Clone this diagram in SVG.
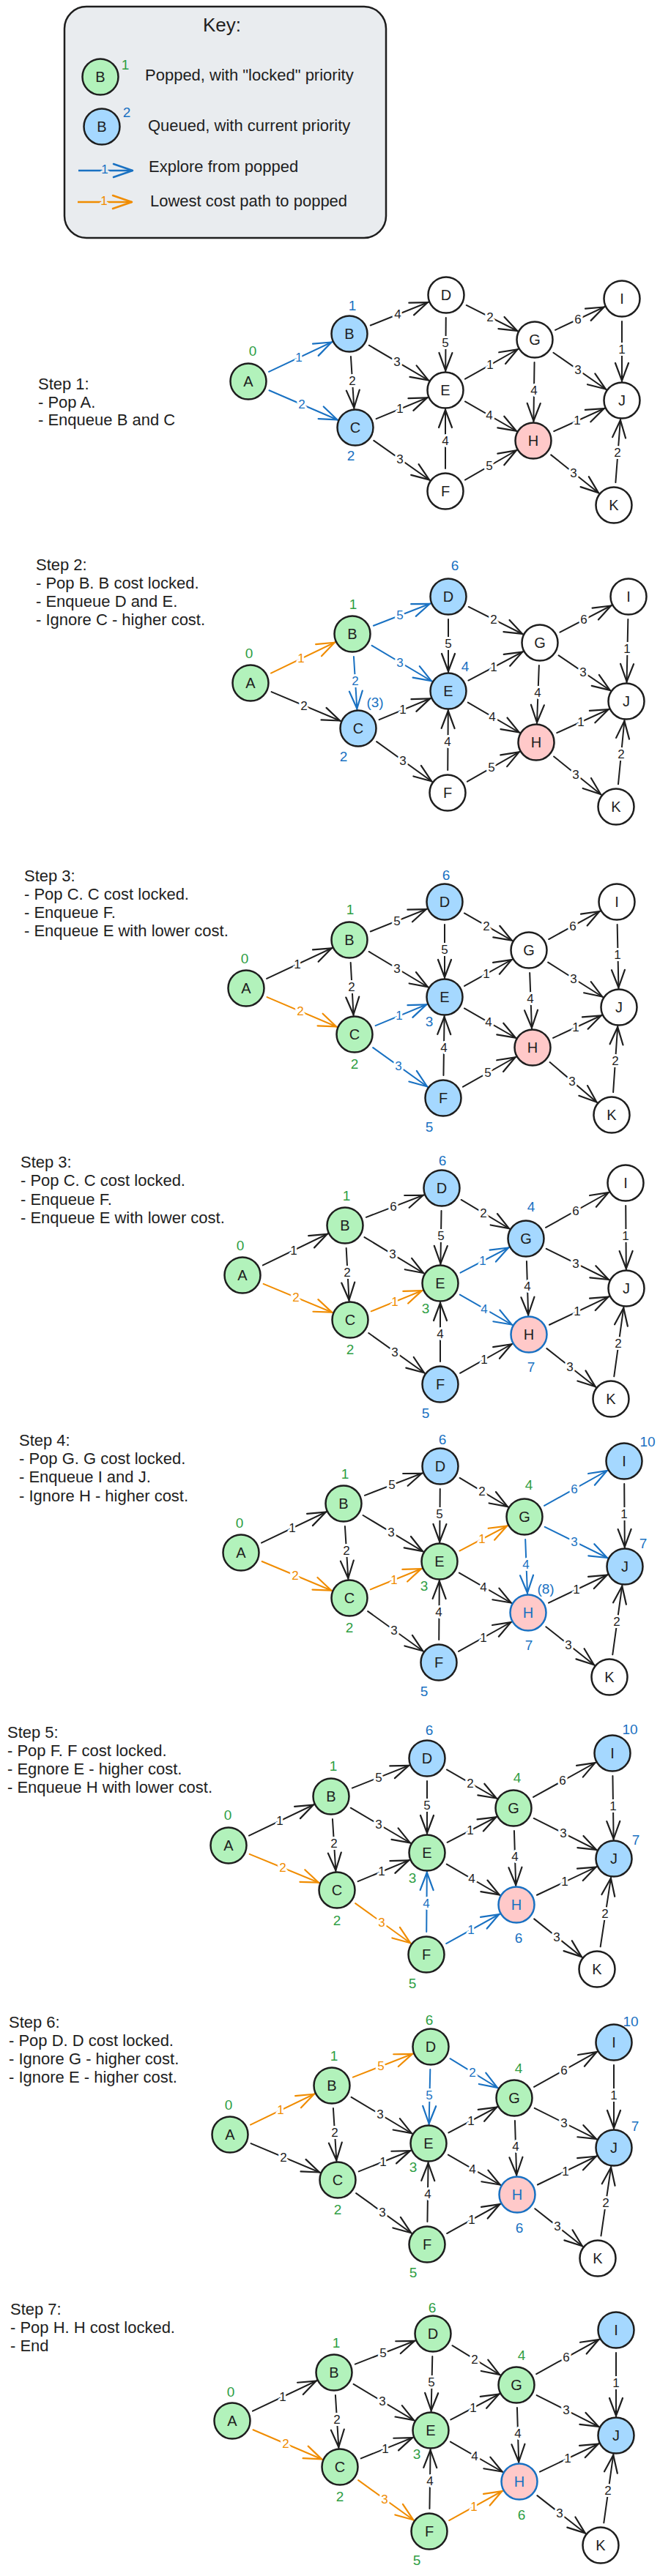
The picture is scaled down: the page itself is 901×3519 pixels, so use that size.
<svg xmlns="http://www.w3.org/2000/svg" width="901" height="3519" viewBox="0 0 901 3519">
<defs>
<style>
text{font-family:"Liberation Sans",Arial,sans-serif}
.e,.eb,.eo{stroke-width:2;fill:none;stroke-dasharray:0 31 4000;stroke-linecap:round}
.e{stroke:#1e1e1e;marker-end:url(#hk)}
.eb{stroke:#1971c2;marker-end:url(#hb)}
.eo{stroke:#f08c00;marker-end:url(#ho)}
.l{font-size:17px;fill:#1e1e1e;text-anchor:middle;dominant-baseline:central;stroke:#fff;stroke-width:6;paint-order:stroke;stroke-linejoin:round}
.l.b{fill:#1971c2}
.l.o{fill:#f08c00}
.n{stroke:#1e1e1e;stroke-width:2.5}
.w{fill:#fff}.g{fill:#b2f2bb}.b{fill:#a5d8ff}.p{fill:#ffc9c9}
.n.hb{stroke:#1971c2}
.t{font-size:20px;fill:#1e1e1e;text-anchor:middle;dominant-baseline:central}
.t.hb{fill:#1971c2}
.ng,.nb{font-size:19px;text-anchor:middle;dominant-baseline:central}
.ng{fill:#2f9e44}.nb{fill:#1971c2}
.st{font-size:22px;fill:#1e1e1e}
</style>
<marker id="hk" markerUnits="userSpaceOnUse" orient="auto" refX="27" refY="0" markerWidth="1" markerHeight="1" overflow="visible"><path d="M-24,-9 L0,0 L-24,9" fill="none" stroke="#1e1e1e" stroke-width="2.2" stroke-linecap="round" stroke-linejoin="round"/></marker>
<marker id="hb" markerUnits="userSpaceOnUse" orient="auto" refX="27" refY="0" markerWidth="1" markerHeight="1" overflow="visible"><path d="M-24,-9 L0,0 L-24,9" fill="none" stroke="#1971c2" stroke-width="2.2" stroke-linecap="round" stroke-linejoin="round"/></marker>
<marker id="ho" markerUnits="userSpaceOnUse" orient="auto" refX="27" refY="0" markerWidth="1" markerHeight="1" overflow="visible"><path d="M-24,-9 L0,0 L-24,9" fill="none" stroke="#f08c00" stroke-width="2.2" stroke-linecap="round" stroke-linejoin="round"/></marker>
<marker id="hbk" markerUnits="userSpaceOnUse" orient="auto" refX="0" refY="0" markerWidth="1" markerHeight="1" overflow="visible"><path d="M-26,-9 L0,0 L-26,9" fill="none" stroke="#1971c2" stroke-width="2.5" stroke-linecap="round" stroke-linejoin="round"/></marker>
<marker id="hok" markerUnits="userSpaceOnUse" orient="auto" refX="0" refY="0" markerWidth="1" markerHeight="1" overflow="visible"><path d="M-26,-9 L0,0 L-26,9" fill="none" stroke="#f08c00" stroke-width="2.5" stroke-linecap="round" stroke-linejoin="round"/></marker>
</defs>
<rect width="901" height="3519" fill="#fff"/>

<g id="key">
<rect x="88" y="9" width="439" height="316" rx="30" fill="#e9ecef" stroke="#1e1e1e" stroke-width="2.5"/>
<text x="303" y="43" font-size="26" fill="#1e1e1e" text-anchor="middle">Key:</text>
<g id="key-popped"><circle cx="137" cy="105" r="24.5" class="n g"/><text x="137" y="105" class="t">B</text><text x="171" y="88" class="ng">1</text>
<text x="198" y="110" class="st">Popped, with "locked" priority</text></g>
<g id="key-queued"><circle cx="139" cy="173" r="24.5" class="n b"/><text x="139" y="173" class="t">B</text><text x="173" y="153" class="nb">2</text>
<text x="202" y="179" class="st">Queued, with current priority</text></g>
<g id="key-explore"><line x1="107" y1="233" x2="181" y2="233" stroke="#1971c2" stroke-width="2.5" marker-end="url(#hbk)"/><text x="143" y="231" class="l b" style="stroke:#e9ecef">1</text>
<text x="203" y="235" class="st">Explore from popped</text></g>
<g id="key-lowest"><line x1="106" y1="276" x2="180" y2="276" stroke="#f08c00" stroke-width="2.5" marker-end="url(#hok)"/><text x="142" y="274" class="l o" style="stroke:#e9ecef">1</text>
<text x="205" y="282" class="st">Lowest cost path to popped</text></g>
</g>

<!-- STEP 1 -->
<g id="step1">
<g id="s1-text"><text x="52" y="532" class="st">Step 1:</text><text x="52" y="557" class="st">- Pop A.</text><text x="52" y="581" class="st">- Enqueue B and C</text></g>
<g id="s1-connectors">
<line x1="339" y1="521" x2="477" y2="456" class="eb"/>
<line x1="339" y1="521" x2="485" y2="584" class="eb"/>
<line x1="477" y1="456" x2="609" y2="403" class="e"/>
<line x1="477" y1="456" x2="608" y2="533" class="e"/>
<line x1="477" y1="456" x2="485" y2="584" class="e"/>
<line x1="485" y1="584" x2="608" y2="533" class="e"/>
<line x1="485" y1="584" x2="608" y2="671" class="e"/>
<line x1="609" y1="403" x2="608" y2="533" class="e"/>
<line x1="609" y1="403" x2="730" y2="464" class="e"/>
<line x1="608" y1="533" x2="730" y2="464" class="e"/>
<line x1="608" y1="533" x2="728" y2="602" class="e"/>
<line x1="608" y1="671" x2="608" y2="533" class="e"/>
<line x1="608" y1="671" x2="728" y2="602" class="e"/>
<line x1="730" y1="464" x2="849" y2="408" class="e"/>
<line x1="730" y1="464" x2="849" y2="547" class="e"/>
<line x1="730" y1="464" x2="728" y2="602" class="e"/>
<line x1="728" y1="602" x2="849" y2="547" class="e"/>
<line x1="728" y1="602" x2="838" y2="690" class="e"/>
<line x1="849" y1="408" x2="849" y2="547" class="e"/>
<line x1="838" y1="690" x2="849" y2="547" class="e"/>
<text x="408" y="488" class="l b">1</text><text x="412" y="552" class="l b">2</text><text x="543" y="429" class="l">4</text><text x="542" y="494" class="l">3</text><text x="481" y="520" class="l">2</text><text x="546" y="558" class="l">1</text><text x="546" y="627" class="l">3</text><text x="608" y="468" class="l">5</text><text x="669" y="433" class="l">2</text><text x="669" y="498" class="l">1</text><text x="668" y="567" class="l">4</text><text x="608" y="602" class="l">4</text><text x="668" y="636" class="l">5</text><text x="789" y="436" class="l">6</text><text x="789" y="505" class="l">3</text><text x="729" y="533" class="l">4</text><text x="788" y="574" class="l">1</text><text x="783" y="646" class="l">3</text><text x="849" y="477" class="l">1</text><text x="843" y="618" class="l">2</text>
</g>
<g id="s1-A"><circle cx="339" cy="521" r="24.5" class="n g"/><text x="339" y="521" class="t">A</text><text x="345" y="479" class="ng">0</text></g>
<g id="s1-B"><circle cx="477" cy="456" r="24.5" class="n b"/><text x="477" y="456" class="t">B</text><text x="481" y="417" class="nb">1</text></g>
<g id="s1-C"><circle cx="485" cy="584" r="24.5" class="n b"/><text x="485" y="584" class="t">C</text><text x="479" y="622" class="nb">2</text></g>
<g id="s1-D"><circle cx="609" cy="403" r="24.5" class="n w"/><text x="609" y="403" class="t">D</text></g>
<g id="s1-E"><circle cx="608" cy="533" r="24.5" class="n w"/><text x="608" y="533" class="t">E</text></g>
<g id="s1-F"><circle cx="608" cy="671" r="24.5" class="n w"/><text x="608" y="671" class="t">F</text></g>
<g id="s1-G"><circle cx="730" cy="464" r="24.5" class="n w"/><text x="730" y="464" class="t">G</text></g>
<g id="s1-H"><circle cx="728" cy="602" r="24.5" class="n p"/><text x="728" y="602" class="t">H</text></g>
<g id="s1-I"><circle cx="849" cy="408" r="24.5" class="n w"/><text x="849" y="408" class="t">I</text></g>
<g id="s1-J"><circle cx="849" cy="547" r="24.5" class="n w"/><text x="849" y="547" class="t">J</text></g>
<g id="s1-K"><circle cx="838" cy="690" r="24.5" class="n w"/><text x="838" y="690" class="t">K</text></g>
</g>

<!-- STEP 2 -->
<g id="step2">
<g id="s2-text"><text x="49" y="779" class="st">Step 2:</text><text x="49" y="804" class="st">- Pop B. B cost locked.</text><text x="49" y="829" class="st">- Enqueue D and E.</text><text x="49" y="854" class="st">- Ignore C - higher cost.</text></g>
<g id="s2-connectors">
<line x1="342" y1="933" x2="481" y2="866" class="eo"/>
<line x1="342" y1="933" x2="489" y2="995" class="e"/>
<line x1="481" y1="866" x2="612" y2="815" class="eb"/>
<line x1="481" y1="866" x2="612" y2="944" class="eb"/>
<line x1="481" y1="866" x2="489" y2="995" class="eb"/>
<line x1="489" y1="995" x2="612" y2="944" class="e"/>
<line x1="489" y1="995" x2="611" y2="1083" class="e"/>
<line x1="612" y1="815" x2="612" y2="944" class="e"/>
<line x1="612" y1="815" x2="737" y2="878" class="e"/>
<line x1="612" y1="944" x2="737" y2="878" class="e"/>
<line x1="612" y1="944" x2="732" y2="1014" class="e"/>
<line x1="611" y1="1083" x2="612" y2="944" class="e"/>
<line x1="611" y1="1083" x2="732" y2="1014" class="e"/>
<line x1="737" y1="878" x2="858" y2="815" class="e"/>
<line x1="737" y1="878" x2="855" y2="958" class="e"/>
<line x1="737" y1="878" x2="732" y2="1014" class="e"/>
<line x1="732" y1="1014" x2="855" y2="958" class="e"/>
<line x1="732" y1="1014" x2="841" y2="1102" class="e"/>
<line x1="858" y1="815" x2="855" y2="958" class="e"/>
<line x1="841" y1="1102" x2="855" y2="958" class="e"/>
<text x="411" y="899" class="l o">1</text><text x="415" y="964" class="l">2</text><text x="546" y="840" class="l b">5</text><text x="546" y="905" class="l b">3</text><text x="485" y="930" class="l b">2</text><text x="550" y="969" class="l">1</text><text x="550" y="1039" class="l">3</text><text x="612" y="879" class="l">5</text><text x="674" y="846" class="l">2</text><text x="674" y="911" class="l">1</text><text x="672" y="979" class="l">4</text><text x="611" y="1013" class="l">4</text><text x="671" y="1048" class="l">5</text><text x="797" y="846" class="l">6</text><text x="796" y="918" class="l">3</text><text x="734" y="946" class="l">4</text><text x="793" y="986" class="l">1</text><text x="786" y="1058" class="l">3</text><text x="856" y="886" class="l">1</text><text x="848" y="1030" class="l">2</text>
</g>
<g id="s2-A"><circle cx="342" cy="933" r="24.5" class="n g"/><text x="342" y="933" class="t">A</text><text x="340" y="892" class="ng">0</text></g>
<g id="s2-B"><circle cx="481" cy="866" r="24.5" class="n g"/><text x="481" y="866" class="t">B</text><text x="482" y="825" class="ng">1</text></g>
<g id="s2-C"><circle cx="489" cy="995" r="24.5" class="n b"/><text x="489" y="995" class="t">C</text><text x="469" y="1033" class="nb">2</text><text x="512" y="959" class="nb">(3)</text></g>
<g id="s2-D"><circle cx="612" cy="815" r="24.5" class="n b"/><text x="612" y="815" class="t">D</text><text x="621" y="772" class="nb">6</text></g>
<g id="s2-E"><circle cx="612" cy="944" r="24.5" class="n b"/><text x="612" y="944" class="t">E</text><text x="635" y="910" class="nb">4</text></g>
<g id="s2-F"><circle cx="611" cy="1083" r="24.5" class="n w"/><text x="611" y="1083" class="t">F</text></g>
<g id="s2-G"><circle cx="737" cy="878" r="24.5" class="n w"/><text x="737" y="878" class="t">G</text></g>
<g id="s2-H"><circle cx="732" cy="1014" r="24.5" class="n p"/><text x="732" y="1014" class="t">H</text></g>
<g id="s2-I"><circle cx="858" cy="815" r="24.5" class="n w"/><text x="858" y="815" class="t">I</text></g>
<g id="s2-J"><circle cx="855" cy="958" r="24.5" class="n w"/><text x="855" y="958" class="t">J</text></g>
<g id="s2-K"><circle cx="841" cy="1102" r="24.5" class="n w"/><text x="841" y="1102" class="t">K</text></g>
</g>

<!-- STEP 3 -->
<g id="step3">
<g id="s3-text"><text x="33" y="1204" class="st">Step 3:</text><text x="33" y="1229" class="st">- Pop C. C cost locked.</text><text x="33" y="1254" class="st">- Enqueue F.</text><text x="33" y="1279" class="st">- Enqueue E with lower cost.</text></g>
<g id="s3-connectors">
<line x1="336" y1="1350" x2="477" y2="1284" class="e"/>
<line x1="336" y1="1350" x2="484" y2="1413" class="eo"/>
<line x1="477" y1="1284" x2="607" y2="1232" class="e"/>
<line x1="477" y1="1284" x2="607" y2="1362" class="e"/>
<line x1="477" y1="1284" x2="484" y2="1413" class="e"/>
<line x1="484" y1="1413" x2="607" y2="1362" class="eb"/>
<line x1="484" y1="1413" x2="605" y2="1500" class="eb"/>
<line x1="607" y1="1232" x2="607" y2="1362" class="e"/>
<line x1="607" y1="1232" x2="722" y2="1298" class="e"/>
<line x1="607" y1="1362" x2="722" y2="1298" class="e"/>
<line x1="607" y1="1362" x2="727" y2="1431" class="e"/>
<line x1="605" y1="1500" x2="607" y2="1362" class="e"/>
<line x1="605" y1="1500" x2="727" y2="1431" class="e"/>
<line x1="722" y1="1298" x2="842" y2="1232" class="e"/>
<line x1="722" y1="1298" x2="845" y2="1376" class="e"/>
<line x1="722" y1="1298" x2="727" y2="1431" class="e"/>
<line x1="727" y1="1431" x2="845" y2="1376" class="e"/>
<line x1="727" y1="1431" x2="835" y2="1523" class="e"/>
<line x1="842" y1="1232" x2="845" y2="1376" class="e"/>
<line x1="835" y1="1523" x2="845" y2="1376" class="e"/>
<text x="406" y="1317" class="l">1</text><text x="410" y="1381" class="l o">2</text><text x="542" y="1258" class="l">5</text><text x="542" y="1323" class="l">3</text><text x="480" y="1348" class="l">2</text><text x="545" y="1387" class="l b">1</text><text x="544" y="1456" class="l b">3</text><text x="607" y="1297" class="l">5</text><text x="664" y="1265" class="l">2</text><text x="664" y="1330" class="l">1</text><text x="667" y="1396" class="l">4</text><text x="606" y="1431" class="l">4</text><text x="666" y="1465" class="l">5</text><text x="782" y="1265" class="l">6</text><text x="783" y="1337" class="l">3</text><text x="724" y="1364" class="l">4</text><text x="786" y="1403" class="l">1</text><text x="781" y="1477" class="l">3</text><text x="843" y="1304" class="l">1</text><text x="840" y="1449" class="l">2</text>
</g>
<g id="s3-A"><circle cx="336" cy="1350" r="24.5" class="n g"/><text x="336" y="1350" class="t">A</text><text x="334" y="1309" class="ng">0</text></g>
<g id="s3-B"><circle cx="477" cy="1284" r="24.5" class="n g"/><text x="477" y="1284" class="t">B</text><text x="478" y="1242" class="ng">1</text></g>
<g id="s3-C"><circle cx="484" cy="1413" r="24.5" class="n g"/><text x="484" y="1413" class="t">C</text><text x="484" y="1453" class="ng">2</text></g>
<g id="s3-D"><circle cx="607" cy="1232" r="24.5" class="n b"/><text x="607" y="1232" class="t">D</text><text x="609" y="1195" class="nb">6</text></g>
<g id="s3-E"><circle cx="607" cy="1362" r="24.5" class="n b"/><text x="607" y="1362" class="t">E</text><text x="586" y="1395" class="nb">3</text></g>
<g id="s3-F"><circle cx="605" cy="1500" r="24.5" class="n b"/><text x="605" y="1500" class="t">F</text><text x="586" y="1539" class="nb">5</text></g>
<g id="s3-G"><circle cx="722" cy="1298" r="24.5" class="n w"/><text x="722" y="1298" class="t">G</text></g>
<g id="s3-H"><circle cx="727" cy="1431" r="24.5" class="n p"/><text x="727" y="1431" class="t">H</text></g>
<g id="s3-I"><circle cx="842" cy="1232" r="24.5" class="n w"/><text x="842" y="1232" class="t">I</text></g>
<g id="s3-J"><circle cx="845" cy="1376" r="24.5" class="n w"/><text x="845" y="1376" class="t">J</text></g>
<g id="s3-K"><circle cx="835" cy="1523" r="24.5" class="n w"/><text x="835" y="1523" class="t">K</text></g>
</g>

<!-- STEP 3 (second) -->
<g id="step3b">
<g id="s4-text"><text x="28" y="1595" class="st">Step 3:</text><text x="28" y="1620" class="st">- Pop C. C cost locked.</text><text x="28" y="1646" class="st">- Enqueue F.</text><text x="28" y="1671" class="st">- Enqueue E with lower cost.</text></g>
<g id="s4-connectors">
<line x1="331" y1="1742" x2="471" y2="1674" class="e"/>
<line x1="331" y1="1742" x2="478" y2="1803" class="eo"/>
<line x1="471" y1="1674" x2="603" y2="1623" class="e"/>
<line x1="471" y1="1674" x2="601" y2="1753" class="e"/>
<line x1="471" y1="1674" x2="478" y2="1803" class="e"/>
<line x1="478" y1="1803" x2="601" y2="1753" class="eo"/>
<line x1="478" y1="1803" x2="601" y2="1891" class="e"/>
<line x1="603" y1="1623" x2="601" y2="1753" class="e"/>
<line x1="603" y1="1623" x2="718" y2="1692" class="e"/>
<line x1="601" y1="1753" x2="718" y2="1692" class="eb"/>
<line x1="601" y1="1753" x2="722" y2="1823" class="eb"/>
<line x1="601" y1="1891" x2="601" y2="1753" class="e"/>
<line x1="601" y1="1891" x2="722" y2="1823" class="e"/>
<line x1="718" y1="1692" x2="854" y2="1616" class="e"/>
<line x1="718" y1="1692" x2="855" y2="1760" class="e"/>
<line x1="718" y1="1692" x2="722" y2="1823" class="e"/>
<line x1="722" y1="1823" x2="855" y2="1760" class="e"/>
<line x1="722" y1="1823" x2="834" y2="1911" class="e"/>
<line x1="854" y1="1616" x2="855" y2="1760" class="e"/>
<line x1="834" y1="1911" x2="855" y2="1760" class="e"/>
<text x="401" y="1708" class="l">1</text><text x="404" y="1772" class="l o">2</text><text x="537" y="1648" class="l">6</text><text x="536" y="1713" class="l">3</text><text x="474" y="1738" class="l">2</text><text x="539" y="1778" class="l o">1</text><text x="539" y="1847" class="l">3</text><text x="602" y="1688" class="l">5</text><text x="660" y="1657" class="l">2</text><text x="659" y="1722" class="l b">1</text><text x="661" y="1788" class="l b">4</text><text x="601" y="1822" class="l">4</text><text x="661" y="1857" class="l">1</text><text x="786" y="1654" class="l">6</text><text x="786" y="1726" class="l">3</text><text x="720" y="1757" class="l">4</text><text x="788" y="1791" class="l">1</text><text x="778" y="1867" class="l">3</text><text x="854" y="1688" class="l">1</text><text x="844" y="1835" class="l">2</text>
</g>
<g id="s4-A"><circle cx="331" cy="1742" r="24.5" class="n g"/><text x="331" y="1742" class="t">A</text><text x="328" y="1701" class="ng">0</text></g>
<g id="s4-B"><circle cx="471" cy="1674" r="24.5" class="n g"/><text x="471" y="1674" class="t">B</text><text x="473" y="1633" class="ng">1</text></g>
<g id="s4-C"><circle cx="478" cy="1803" r="24.5" class="n g"/><text x="478" y="1803" class="t">C</text><text x="478" y="1843" class="ng">2</text></g>
<g id="s4-D"><circle cx="603" cy="1623" r="24.5" class="n b"/><text x="603" y="1623" class="t">D</text><text x="604" y="1585" class="nb">6</text></g>
<g id="s4-E"><circle cx="601" cy="1753" r="24.5" class="n g"/><text x="601" y="1753" class="t">E</text><text x="581" y="1787" class="ng">3</text></g>
<g id="s4-F"><circle cx="601" cy="1891" r="24.5" class="n b"/><text x="601" y="1891" class="t">F</text><text x="581" y="1930" class="nb">5</text></g>
<g id="s4-G"><circle cx="718" cy="1692" r="24.5" class="n b"/><text x="718" y="1692" class="t">G</text><text x="725" y="1648" class="nb">4</text></g>
<g id="s4-H"><circle cx="722" cy="1823" r="24.5" class="n p hb"/><text x="722" y="1823" class="t">H</text><text x="725" y="1867" class="nb">7</text></g>
<g id="s4-I"><circle cx="854" cy="1616" r="24.5" class="n w"/><text x="854" y="1616" class="t">I</text></g>
<g id="s4-J"><circle cx="855" cy="1760" r="24.5" class="n w"/><text x="855" y="1760" class="t">J</text></g>
<g id="s4-K"><circle cx="834" cy="1911" r="24.5" class="n w"/><text x="834" y="1911" class="t">K</text></g>
</g>

<!-- STEP 4 -->
<g id="step4">
<g id="s5-text"><text x="26" y="1975" class="st">Step 4:</text><text x="26" y="2000" class="st">- Pop G. G cost locked.</text><text x="26" y="2025" class="st">- Enqueue I and J.</text><text x="26" y="2051" class="st">- Ignore H - higher cost.</text></g>
<g id="s5-connectors">
<line x1="329" y1="2121" x2="469" y2="2054" class="e"/>
<line x1="329" y1="2121" x2="477" y2="2183" class="eo"/>
<line x1="469" y1="2054" x2="601" y2="2003" class="e"/>
<line x1="469" y1="2054" x2="600" y2="2133" class="e"/>
<line x1="469" y1="2054" x2="477" y2="2183" class="e"/>
<line x1="477" y1="2183" x2="600" y2="2133" class="eo"/>
<line x1="477" y1="2183" x2="599" y2="2271" class="e"/>
<line x1="601" y1="2003" x2="600" y2="2133" class="e"/>
<line x1="601" y1="2003" x2="716" y2="2072" class="e"/>
<line x1="600" y1="2133" x2="716" y2="2072" class="eo"/>
<line x1="600" y1="2133" x2="721" y2="2203" class="e"/>
<line x1="599" y1="2271" x2="600" y2="2133" class="e"/>
<line x1="599" y1="2271" x2="721" y2="2203" class="e"/>
<line x1="716" y1="2072" x2="852" y2="1996" class="eb"/>
<line x1="716" y1="2072" x2="853" y2="2140" class="eb"/>
<line x1="716" y1="2072" x2="721" y2="2203" class="eb"/>
<line x1="721" y1="2203" x2="853" y2="2140" class="e"/>
<line x1="721" y1="2203" x2="832" y2="2291" class="e"/>
<line x1="852" y1="1996" x2="853" y2="2140" class="e"/>
<line x1="832" y1="2291" x2="853" y2="2140" class="e"/>
<text x="399" y="2087" class="l">1</text><text x="403" y="2152" class="l o">2</text><text x="535" y="2028" class="l">5</text><text x="534" y="2093" class="l">3</text><text x="473" y="2118" class="l">2</text><text x="538" y="2158" class="l o">1</text><text x="538" y="2227" class="l">3</text><text x="600" y="2068" class="l">5</text><text x="658" y="2037" class="l">2</text><text x="658" y="2102" class="l o">1</text><text x="660" y="2168" class="l">4</text><text x="599" y="2202" class="l">4</text><text x="660" y="2237" class="l">1</text><text x="784" y="2034" class="l b">6</text><text x="784" y="2106" class="l b">3</text><text x="718" y="2137" class="l b">4</text><text x="787" y="2171" class="l">1</text><text x="776" y="2247" class="l">3</text><text x="852" y="2068" class="l">1</text><text x="842" y="2215" class="l">2</text>
</g>
<g id="s5-A"><circle cx="329" cy="2121" r="24.5" class="n g"/><text x="329" y="2121" class="t">A</text><text x="327" y="2080" class="ng">0</text></g>
<g id="s5-B"><circle cx="469" cy="2054" r="24.5" class="n g"/><text x="469" y="2054" class="t">B</text><text x="471" y="2013" class="ng">1</text></g>
<g id="s5-C"><circle cx="477" cy="2183" r="24.5" class="n g"/><text x="477" y="2183" class="t">C</text><text x="477" y="2223" class="ng">2</text></g>
<g id="s5-D"><circle cx="601" cy="2003" r="24.5" class="n b"/><text x="601" y="2003" class="t">D</text><text x="604" y="1966" class="nb">6</text></g>
<g id="s5-E"><circle cx="600" cy="2133" r="24.5" class="n g"/><text x="600" y="2133" class="t">E</text><text x="579" y="2166" class="ng">3</text></g>
<g id="s5-F"><circle cx="599" cy="2271" r="24.5" class="n b"/><text x="599" y="2271" class="t">F</text><text x="579" y="2310" class="nb">5</text></g>
<g id="s5-G"><circle cx="716" cy="2072" r="24.5" class="n g"/><text x="716" y="2072" class="t">G</text><text x="722" y="2028" class="ng">4</text></g>
<g id="s5-H"><circle cx="721" cy="2203" r="24.5" class="n p hb"/><text x="721" y="2203" class="t hb">H</text><text x="722" y="2247" class="nb">7</text><text x="745" y="2170" class="nb">(8)</text></g>
<g id="s5-I"><circle cx="852" cy="1996" r="24.5" class="n b"/><text x="852" y="1996" class="t">I</text><text x="884" y="1969" class="nb">10</text></g>
<g id="s5-J"><circle cx="853" cy="2140" r="24.5" class="n b"/><text x="853" y="2140" class="t">J</text><text x="878" y="2108" class="nb">7</text></g>
<g id="s5-K"><circle cx="832" cy="2291" r="24.5" class="n w"/><text x="832" y="2291" class="t">K</text></g>
</g>

<!-- STEP 5 -->
<g id="step5">
<g id="s6-text"><text x="10" y="2374" class="st">Step 5:</text><text x="10" y="2399" class="st">- Pop F. F cost locked.</text><text x="10" y="2424" class="st">- Egnore E - higher cost.</text><text x="10" y="2449" class="st">- Enqueue H with lower cost.</text></g>
<g id="s6-connectors">
<line x1="312" y1="2521" x2="452" y2="2454" class="e"/>
<line x1="312" y1="2521" x2="460" y2="2582" class="eo"/>
<line x1="452" y1="2454" x2="583" y2="2402" class="e"/>
<line x1="452" y1="2454" x2="583" y2="2531" class="e"/>
<line x1="452" y1="2454" x2="460" y2="2582" class="e"/>
<line x1="460" y1="2582" x2="583" y2="2531" class="e"/>
<line x1="460" y1="2582" x2="582" y2="2670" class="eo"/>
<line x1="583" y1="2402" x2="583" y2="2531" class="e"/>
<line x1="583" y1="2402" x2="701" y2="2470" class="e"/>
<line x1="583" y1="2531" x2="701" y2="2470" class="e"/>
<line x1="583" y1="2531" x2="705" y2="2602" class="e"/>
<line x1="582" y1="2670" x2="583" y2="2531" class="eb"/>
<line x1="582" y1="2670" x2="705" y2="2602" class="eb"/>
<line x1="701" y1="2470" x2="836" y2="2395" class="e"/>
<line x1="701" y1="2470" x2="838" y2="2539" class="e"/>
<line x1="701" y1="2470" x2="705" y2="2602" class="e"/>
<line x1="705" y1="2602" x2="838" y2="2539" class="e"/>
<line x1="705" y1="2602" x2="815" y2="2690" class="e"/>
<line x1="836" y1="2395" x2="838" y2="2539" class="e"/>
<line x1="815" y1="2690" x2="838" y2="2539" class="e"/>
<text x="382" y="2487" class="l">1</text><text x="386" y="2551" class="l o">2</text><text x="517" y="2428" class="l">5</text><text x="517" y="2492" class="l">3</text><text x="456" y="2518" class="l">2</text><text x="521" y="2556" class="l">1</text><text x="521" y="2626" class="l o">3</text><text x="583" y="2466" class="l">5</text><text x="642" y="2436" class="l">2</text><text x="642" y="2500" class="l">1</text><text x="644" y="2566" class="l">4</text><text x="582" y="2600" class="l b">4</text><text x="643" y="2636" class="l b">1</text><text x="768" y="2432" class="l">6</text><text x="769" y="2504" class="l">3</text><text x="703" y="2536" class="l">4</text><text x="771" y="2570" class="l">1</text><text x="760" y="2646" class="l">3</text><text x="837" y="2467" class="l">1</text><text x="826" y="2614" class="l">2</text>
</g>
<g id="s6-A"><circle cx="312" cy="2521" r="24.5" class="n g"/><text x="312" y="2521" class="t">A</text><text x="311" y="2479" class="ng">0</text></g>
<g id="s6-B"><circle cx="452" cy="2454" r="24.5" class="n g"/><text x="452" y="2454" class="t">B</text><text x="455" y="2412" class="ng">1</text></g>
<g id="s6-C"><circle cx="460" cy="2582" r="24.5" class="n g"/><text x="460" y="2582" class="t">C</text><text x="460" y="2623" class="ng">2</text></g>
<g id="s6-D"><circle cx="583" cy="2402" r="24.5" class="n b"/><text x="583" y="2402" class="t">D</text><text x="586" y="2363" class="nb">6</text></g>
<g id="s6-E"><circle cx="583" cy="2531" r="24.5" class="n g"/><text x="583" y="2531" class="t">E</text><text x="563" y="2565" class="ng">3</text></g>
<g id="s6-F"><circle cx="582" cy="2670" r="24.5" class="n g"/><text x="582" y="2670" class="t">F</text><text x="563" y="2709" class="ng">5</text></g>
<g id="s6-G"><circle cx="701" cy="2470" r="24.5" class="n g"/><text x="701" y="2470" class="t">G</text><text x="706" y="2428" class="ng">4</text></g>
<g id="s6-H"><circle cx="705" cy="2602" r="24.5" class="n p hb"/><text x="705" y="2602" class="t hb">H</text><text x="708" y="2647" class="nb">6</text></g>
<g id="s6-I"><circle cx="836" cy="2395" r="24.5" class="n b"/><text x="836" y="2395" class="t">I</text><text x="860" y="2362" class="nb">10</text></g>
<g id="s6-J"><circle cx="838" cy="2539" r="24.5" class="n b"/><text x="838" y="2539" class="t">J</text><text x="868" y="2513" class="nb">7</text></g>
<g id="s6-K"><circle cx="815" cy="2690" r="24.5" class="n w"/><text x="815" y="2690" class="t">K</text></g>
</g>

<!-- STEP 6 -->
<g id="step6">
<g id="s7-text"><text x="12" y="2770" class="st">Step 6:</text><text x="12" y="2795" class="st">- Pop D. D cost locked.</text><text x="12" y="2820" class="st">- Ignore G - higher cost.</text><text x="12" y="2845" class="st">- Ignore E - higher cost.</text></g>
<g id="s7-connectors">
<line x1="314" y1="2916" x2="453" y2="2849" class="eo"/>
<line x1="314" y1="2916" x2="461" y2="2978" class="e"/>
<line x1="453" y1="2849" x2="588" y2="2796" class="eo"/>
<line x1="453" y1="2849" x2="585" y2="2928" class="e"/>
<line x1="453" y1="2849" x2="461" y2="2978" class="e"/>
<line x1="461" y1="2978" x2="585" y2="2928" class="e"/>
<line x1="461" y1="2978" x2="583" y2="3066" class="e"/>
<line x1="588" y1="2796" x2="585" y2="2928" class="eb"/>
<line x1="588" y1="2796" x2="702" y2="2866" class="eb"/>
<line x1="585" y1="2928" x2="702" y2="2866" class="e"/>
<line x1="585" y1="2928" x2="706" y2="2998" class="e"/>
<line x1="583" y1="3066" x2="585" y2="2928" class="e"/>
<line x1="583" y1="3066" x2="706" y2="2998" class="e"/>
<line x1="702" y1="2866" x2="838" y2="2790" class="e"/>
<line x1="702" y1="2866" x2="838" y2="2934" class="e"/>
<line x1="702" y1="2866" x2="706" y2="2998" class="e"/>
<line x1="706" y1="2998" x2="838" y2="2934" class="e"/>
<line x1="706" y1="2998" x2="816" y2="3085" class="e"/>
<line x1="838" y1="2790" x2="838" y2="2934" class="e"/>
<line x1="816" y1="3085" x2="838" y2="2934" class="e"/>
<text x="383" y="2882" class="l o">1</text><text x="387" y="2947" class="l">2</text><text x="520" y="2822" class="l o">5</text><text x="519" y="2888" class="l">3</text><text x="457" y="2913" class="l">2</text><text x="523" y="2953" class="l">1</text><text x="522" y="3022" class="l">3</text><text x="586" y="2862" class="l b">5</text><text x="645" y="2831" class="l b">2</text><text x="643" y="2897" class="l">1</text><text x="645" y="2963" class="l">4</text><text x="584" y="2997" class="l">4</text><text x="644" y="3032" class="l">1</text><text x="770" y="2828" class="l">6</text><text x="770" y="2900" class="l">3</text><text x="704" y="2932" class="l">4</text><text x="772" y="2966" class="l">1</text><text x="761" y="3041" class="l">3</text><text x="838" y="2862" class="l">1</text><text x="827" y="3009" class="l">2</text>
</g>
<g id="s7-A"><circle cx="314" cy="2916" r="24.5" class="n g"/><text x="314" y="2916" class="t">A</text><text x="312" y="2875" class="ng">0</text></g>
<g id="s7-B"><circle cx="453" cy="2849" r="24.5" class="n g"/><text x="453" y="2849" class="t">B</text><text x="456" y="2808" class="ng">1</text></g>
<g id="s7-C"><circle cx="461" cy="2978" r="24.5" class="n g"/><text x="461" y="2978" class="t">C</text><text x="461" y="3018" class="ng">2</text></g>
<g id="s7-D"><circle cx="588" cy="2796" r="24.5" class="n g"/><text x="588" y="2796" class="t">D</text><text x="586" y="2759" class="ng">6</text></g>
<g id="s7-E"><circle cx="585" cy="2928" r="24.5" class="n g"/><text x="585" y="2928" class="t">E</text><text x="564" y="2960" class="ng">3</text></g>
<g id="s7-F"><circle cx="583" cy="3066" r="24.5" class="n g"/><text x="583" y="3066" class="t">F</text><text x="564" y="3104" class="ng">5</text></g>
<g id="s7-G"><circle cx="702" cy="2866" r="24.5" class="n g"/><text x="702" y="2866" class="t">G</text><text x="708" y="2825" class="ng">4</text></g>
<g id="s7-H"><circle cx="706" cy="2998" r="24.5" class="n p hb"/><text x="706" y="2998" class="t hb">H</text><text x="709" y="3043" class="nb">6</text></g>
<g id="s7-I"><circle cx="838" cy="2790" r="24.5" class="n b"/><text x="838" y="2790" class="t">I</text><text x="861" y="2761" class="nb">10</text></g>
<g id="s7-J"><circle cx="838" cy="2934" r="24.5" class="n b"/><text x="838" y="2934" class="t">J</text><text x="867" y="2904" class="nb">7</text></g>
<g id="s7-K"><circle cx="816" cy="3085" r="24.5" class="n w"/><text x="816" y="3085" class="t">K</text></g>
</g>

<!-- STEP 7 -->
<g id="step7">
<g id="s8-text"><text x="14" y="3162" class="st">Step 7:</text><text x="14" y="3187" class="st">- Pop H. H cost locked.</text><text x="14" y="3212" class="st">- End</text></g>
<g id="s8-connectors">
<line x1="317" y1="3307" x2="456" y2="3241" class="e"/>
<line x1="317" y1="3307" x2="464" y2="3370" class="eo"/>
<line x1="456" y1="3241" x2="591" y2="3188" class="e"/>
<line x1="456" y1="3241" x2="588" y2="3320" class="e"/>
<line x1="456" y1="3241" x2="464" y2="3370" class="e"/>
<line x1="464" y1="3370" x2="588" y2="3320" class="e"/>
<line x1="464" y1="3370" x2="586" y2="3458" class="eo"/>
<line x1="591" y1="3188" x2="588" y2="3320" class="e"/>
<line x1="591" y1="3188" x2="705" y2="3258" class="e"/>
<line x1="588" y1="3320" x2="705" y2="3258" class="e"/>
<line x1="588" y1="3320" x2="709" y2="3390" class="e"/>
<line x1="586" y1="3458" x2="588" y2="3320" class="e"/>
<line x1="586" y1="3458" x2="709" y2="3390" class="eo"/>
<line x1="705" y1="3258" x2="841" y2="3183" class="e"/>
<line x1="705" y1="3258" x2="841" y2="3327" class="e"/>
<line x1="705" y1="3258" x2="709" y2="3390" class="e"/>
<line x1="709" y1="3390" x2="841" y2="3327" class="e"/>
<line x1="709" y1="3390" x2="820" y2="3477" class="e"/>
<line x1="841" y1="3183" x2="841" y2="3327" class="e"/>
<line x1="820" y1="3477" x2="841" y2="3327" class="e"/>
<text x="386" y="3274" class="l">1</text><text x="390" y="3338" class="l o">2</text><text x="523" y="3214" class="l">5</text><text x="522" y="3280" class="l">3</text><text x="460" y="3305" class="l">2</text><text x="526" y="3345" class="l">1</text><text x="525" y="3414" class="l o">3</text><text x="589" y="3254" class="l">5</text><text x="648" y="3223" class="l">2</text><text x="646" y="3289" class="l">1</text><text x="648" y="3355" class="l">4</text><text x="587" y="3389" class="l">4</text><text x="647" y="3424" class="l o">1</text><text x="773" y="3220" class="l">6</text><text x="773" y="3292" class="l">3</text><text x="707" y="3324" class="l">4</text><text x="775" y="3358" class="l">1</text><text x="764" y="3433" class="l">3</text><text x="841" y="3255" class="l">1</text><text x="830" y="3402" class="l">2</text>
</g>
<g id="s8-A"><circle cx="317" cy="3307" r="24.5" class="n g"/><text x="317" y="3307" class="t">A</text><text x="315" y="3267" class="ng">0</text></g>
<g id="s8-B"><circle cx="456" cy="3241" r="24.5" class="n g"/><text x="456" y="3241" class="t">B</text><text x="459" y="3200" class="ng">1</text></g>
<g id="s8-C"><circle cx="464" cy="3370" r="24.5" class="n g"/><text x="464" y="3370" class="t">C</text><text x="464" y="3410" class="ng">2</text></g>
<g id="s8-D"><circle cx="591" cy="3188" r="24.5" class="n g"/><text x="591" y="3188" class="t">D</text><text x="590" y="3152" class="ng">6</text></g>
<g id="s8-E"><circle cx="588" cy="3320" r="24.5" class="n g"/><text x="588" y="3320" class="t">E</text><text x="569" y="3352" class="ng">3</text></g>
<g id="s8-F"><circle cx="586" cy="3458" r="24.5" class="n g"/><text x="586" y="3458" class="t">F</text><text x="569" y="3497" class="ng">5</text></g>
<g id="s8-G"><circle cx="705" cy="3258" r="24.5" class="n g"/><text x="705" y="3258" class="t">G</text><text x="712" y="3217" class="ng">4</text></g>
<g id="s8-H"><circle cx="709" cy="3390" r="24.5" class="n p hb"/><text x="709" y="3390" class="t hb">H</text><text x="712" y="3435" class="ng">6</text></g>
<g id="s8-I"><circle cx="841" cy="3183" r="24.5" class="n b"/><text x="841" y="3183" class="t">I</text></g>
<g id="s8-J"><circle cx="841" cy="3327" r="24.5" class="n b"/><text x="841" y="3327" class="t">J</text></g>
<g id="s8-K"><circle cx="820" cy="3477" r="24.5" class="n w"/><text x="820" y="3477" class="t">K</text></g>
</g>
</svg>
